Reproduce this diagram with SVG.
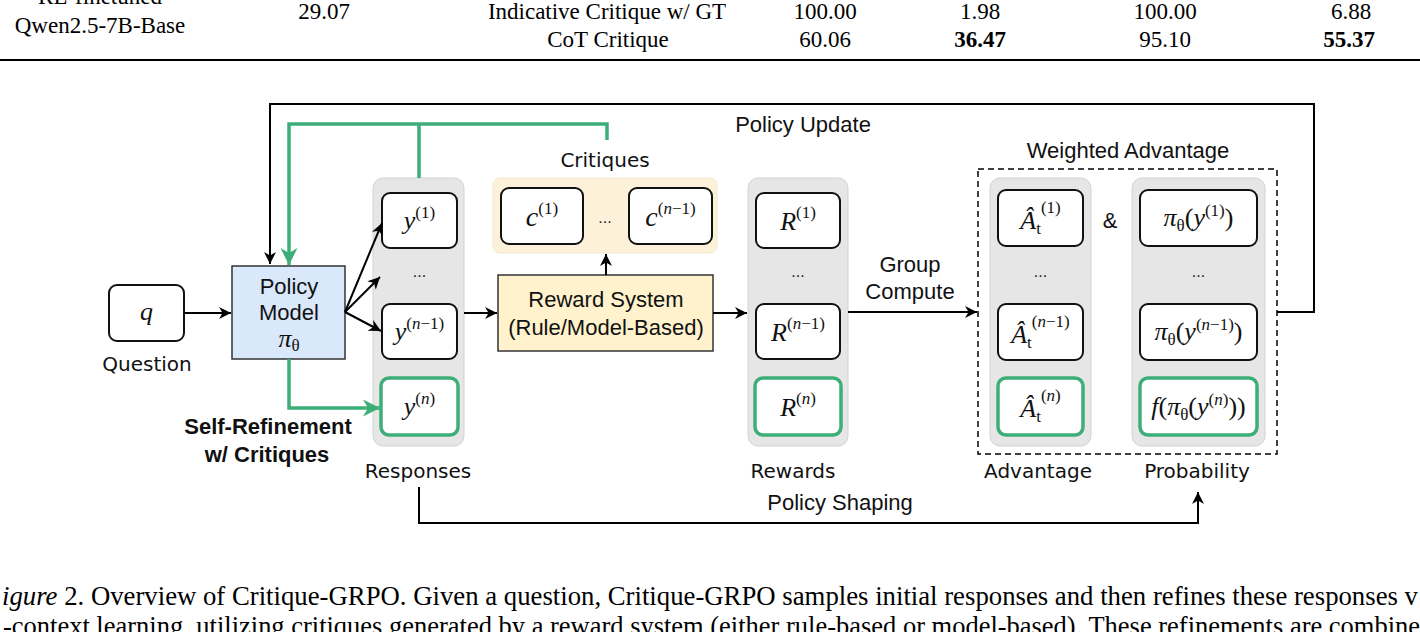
<svg xmlns="http://www.w3.org/2000/svg" width="1420" height="632" viewBox="0 0 1420 632">
<style>
.tb{font-family:"Liberation Serif",serif;font-size:23px;fill:#000}
.cap{font-family:"Liberation Serif",serif;font-size:26.5px;fill:#000}
.sf{font-family:"Liberation Sans",Arial,sans-serif;font-size:22px;fill:#111}
.cm{font-family:"DejaVu Sans",sans-serif;font-size:20px;fill:#111}
.bd{font-family:"Liberation Sans",Arial,sans-serif;font-size:22px;font-weight:bold;fill:#111}
.m{font-family:"Liberation Serif",serif;font-size:26px;fill:#111}
.i{font-style:italic}
.sup{font-size:17px;font-style:normal}
.dots{font-family:"Liberation Sans",sans-serif;font-size:16px;fill:#222}
.panel{fill:#e6e6e6;stroke:#d2d2d2;stroke-width:1}
.box{fill:#fff;stroke:#111;stroke-width:2}
.gbox{fill:#fff;stroke:#3dae78;stroke-width:3.5}
.ln{fill:none;stroke:#000;stroke-width:2}
.gl{fill:none;stroke:#3dae78;stroke-width:3.5}
</style>
<defs>
<marker id="ab" viewBox="0 0 10 10" refX="10" refY="5" markerWidth="13" markerHeight="12" markerUnits="userSpaceOnUse" orient="auto"><path d="M0,0 L10,5 L0,10 L3,5 Z" fill="#000"/></marker>
<marker id="ag" viewBox="0 0 10 10" refX="10" refY="5" markerWidth="17" markerHeight="17" markerUnits="userSpaceOnUse" orient="auto"><path d="M0,0 L10,5 L0,10 L3,5 Z" fill="#3dae78"/></marker>
</defs>
<rect width="1420" height="632" fill="#fff"/>

<!-- table fragment -->
<g id="table">
<text class="tb" x="100" y="4" text-anchor="middle">RL-finetuned</text>
<text class="tb" x="100" y="33" text-anchor="middle">Qwen2.5-7B-Base</text>
<text class="tb" x="324" y="18.5" text-anchor="middle">29.07</text>
<text class="tb" x="607" y="18.5" text-anchor="middle">Indicative Critique w/ GT</text>
<text class="tb" x="608" y="47" text-anchor="middle">CoT Critique</text>
<text class="tb" x="825" y="18.5" text-anchor="middle">100.00</text>
<text class="tb" x="980" y="18.5" text-anchor="middle">1.98</text>
<text class="tb" x="1165" y="18.5" text-anchor="middle">100.00</text>
<text class="tb" x="1351" y="18.5" text-anchor="middle">6.88</text>
<text class="tb" x="825" y="47" text-anchor="middle">60.06</text>
<text class="tb" x="980" y="47" text-anchor="middle" font-weight="bold">36.47</text>
<text class="tb" x="1165" y="47" text-anchor="middle">95.10</text>
<text class="tb" x="1349" y="47" text-anchor="middle" font-weight="bold">55.37</text>
<line x1="0" y1="60" x2="1420" y2="60" stroke="#000" stroke-width="2"/>
</g>

<!-- question -->
<g id="question">
<rect class="box" x="109" y="285" width="75" height="56" rx="8"/>
<text class="m" x="146.5" y="320" text-anchor="middle"><tspan class="i">q</tspan></text>
<text class="cm" x="147" y="371" text-anchor="middle">Question</text>
</g>

<!-- policy model -->
<g id="policy">
<rect x="232" y="266" width="113" height="93" fill="#dae8fc" stroke="#333" stroke-width="1.5"/>
<text class="sf" x="289" y="294" text-anchor="middle">Policy</text>
<text class="sf" x="289" y="320" text-anchor="middle">Model</text>
<text class="m" x="289" y="347" text-anchor="middle" font-size="23"><tspan class="i">π</tspan><tspan class="sup i" font-size="15" dy="4">θ</tspan></text>
</g>

<!-- responses -->
<g id="responses">
<rect class="panel" x="373" y="178" width="91" height="268" rx="10"/>
<rect class="box" x="382" y="193" width="75" height="55" rx="8"/>
<text class="m" x="419.5" y="229" text-anchor="middle"><tspan class="i">y</tspan><tspan class="sup" dy="-11">(1)</tspan></text>
<text class="dots" x="419.5" y="277" text-anchor="middle">...</text>
<rect class="box" x="382" y="304" width="75" height="55" rx="8"/>
<text class="m" x="419.5" y="340" text-anchor="middle"><tspan class="i">y</tspan><tspan class="sup" dy="-11">(<tspan class="i">n</tspan>−1)</tspan></text>
<rect class="gbox" x="381" y="378" width="77" height="57" rx="8"/>
<text class="m" x="419.5" y="415" text-anchor="middle"><tspan class="i">y</tspan><tspan class="sup" dy="-11">(<tspan class="i">n</tspan>)</tspan></text>
<text class="cm" x="418" y="478" text-anchor="middle">Responses</text>
</g>

<!-- critiques -->
<g id="critiques">
<rect x="493" y="178" width="224" height="75" rx="7" fill="#fdf1da" stroke="#f3e6cc" stroke-width="1"/>
<rect class="box" x="501" y="188" width="82" height="56" rx="8"/>
<text class="m" x="542" y="226" text-anchor="middle"><tspan class="i" font-size="28">c</tspan><tspan class="sup" font-size="18" dy="-12">(1)</tspan></text>
<text class="dots" x="605" y="223" text-anchor="middle">...</text>
<rect class="box" x="629" y="188" width="83" height="56" rx="8"/>
<text class="m" x="670.5" y="226" text-anchor="middle"><tspan class="i" font-size="28">c</tspan><tspan class="sup" font-size="18" dy="-12">(<tspan class="i">n</tspan>−1)</tspan></text>
<text class="cm" x="605" y="167" text-anchor="middle">Critiques</text>
</g>

<!-- reward system -->
<g id="reward-system">
<rect x="498" y="275" width="215" height="76" fill="#fff2cc" stroke="#333" stroke-width="1.5"/>
<text class="sf" x="606" y="307" text-anchor="middle">Reward System</text>
<text class="sf" x="606" y="335" text-anchor="middle">(Rule/Model-Based)</text>
</g>

<!-- rewards -->
<g id="rewards">
<rect class="panel" x="748" y="178" width="100" height="268" rx="10"/>
<rect class="box" x="756" y="193" width="84" height="55" rx="8"/>
<text class="m" x="798" y="230" text-anchor="middle"><tspan class="i">R</tspan><tspan class="sup" dy="-12">(1)</tspan></text>
<text class="dots" x="798" y="277" text-anchor="middle">...</text>
<rect class="box" x="756" y="304" width="84" height="55" rx="8"/>
<text class="m" x="798" y="341" text-anchor="middle"><tspan class="i">R</tspan><tspan class="sup" dy="-12">(<tspan class="i">n</tspan>−1)</tspan></text>
<rect class="gbox" x="755" y="378" width="86" height="57" rx="8"/>
<text class="m" x="798" y="416" text-anchor="middle"><tspan class="i">R</tspan><tspan class="sup" dy="-12">(<tspan class="i">n</tspan>)</tspan></text>
<text class="cm" x="793" y="478" text-anchor="middle">Rewards</text>
</g>

<!-- weighted advantage -->
<g id="weighted-advantage">
<rect x="978" y="169" width="299" height="285" fill="none" stroke="#000" stroke-width="1.5" stroke-dasharray="6 4"/>
<text class="sf" x="1128" y="158" text-anchor="middle">Weighted Advantage</text>
<text class="sf" x="1110" y="228" text-anchor="middle">&amp;</text>
</g>

<!-- advantage -->
<g id="advantage">
<rect class="panel" x="990" y="178" width="101" height="268" rx="10"/>
<rect class="box" x="998" y="190" width="85" height="56" rx="8"/>
<text class="m" x="1040.5" y="229" text-anchor="middle"><tspan class="i">Â</tspan><tspan class="sup i" dy="5">t</tspan><tspan class="sup" dy="-21">(1)</tspan></text>
<text class="dots" x="1040.5" y="277" text-anchor="middle">...</text>
<rect class="box" x="998" y="304" width="85" height="56" rx="8"/>
<text class="m" x="1040.5" y="343" text-anchor="middle"><tspan class="i">Â</tspan><tspan class="sup i" dy="5">t</tspan><tspan class="sup" dy="-21">(<tspan class="i">n</tspan>−1)</tspan></text>
<rect class="gbox" x="998" y="378" width="85" height="57" rx="8"/>
<text class="m" x="1040.5" y="417" text-anchor="middle"><tspan class="i">Â</tspan><tspan class="sup i" dy="5">t</tspan><tspan class="sup" dy="-21">(<tspan class="i">n</tspan>)</tspan></text>
<text class="cm" x="1038" y="478" text-anchor="middle">Advantage</text>
</g>

<!-- probability -->
<g id="probability">
<rect class="panel" x="1132" y="178" width="133" height="268" rx="10"/>
<rect class="box" x="1140" y="190" width="117" height="56" rx="8"/>
<text class="m" x="1198.5" y="226" text-anchor="middle" font-size="24"><tspan class="i">π</tspan><tspan class="sup i" font-size="15" dy="5">θ</tspan><tspan dy="-5">(</tspan><tspan class="i">y</tspan><tspan class="sup" font-size="16" dy="-10">(1)</tspan><tspan dy="10">)</tspan></text>
<text class="dots" x="1198.5" y="277" text-anchor="middle">...</text>
<rect class="box" x="1140" y="304" width="117" height="56" rx="8"/>
<text class="m" x="1198.5" y="340" text-anchor="middle" font-size="24"><tspan class="i">π</tspan><tspan class="sup i" font-size="15" dy="5">θ</tspan><tspan dy="-5">(</tspan><tspan class="i">y</tspan><tspan class="sup" font-size="16" dy="-10">(<tspan class="i">n</tspan>−1)</tspan><tspan dy="10">)</tspan></text>
<rect class="gbox" x="1140" y="378" width="117" height="57" rx="8"/>
<text class="m" x="1198.5" y="415" text-anchor="middle" font-size="24"><tspan class="i">f</tspan><tspan>(</tspan><tspan class="i">π</tspan><tspan class="sup i" font-size="15" dy="5">θ</tspan><tspan dy="-5">(</tspan><tspan class="i">y</tspan><tspan class="sup" font-size="16" dy="-10">(<tspan class="i">n</tspan>)</tspan><tspan dy="10">))</tspan></text>
<text class="cm" x="1197" y="478" text-anchor="middle">Probability</text>
</g>

<!-- connectors (drawn on top of the panels) -->
<g id="connectors">
<path class="ln" d="M1277,312 H1314 V104 H270 V264" marker-end="url(#ab)"/>
<path class="gl" d="M607,140 V124 H289 V265" marker-end="url(#ag)"/>
<path class="gl" d="M419,178 V124"/>
<path class="ln" d="M184,313 H231" marker-end="url(#ab)"/>
<path class="ln" d="M345,312 L382,223" marker-end="url(#ab)"/>
<path class="ln" d="M345,312 L380,277" marker-end="url(#ab)"/>
<path class="ln" d="M345,312 L381,331" marker-end="url(#ab)"/>
<path class="gl" d="M289,359 V408 H380" marker-end="url(#ag)"/>
<path class="ln" d="M464,313 H497" marker-end="url(#ab)"/>
<path class="ln" d="M606,275 V254" marker-end="url(#ab)"/>
<path class="ln" d="M713,313 H747" marker-end="url(#ab)"/>
<path class="ln" d="M848,312 H977" marker-end="url(#ab)"/>
<path class="ln" d="M419,487 V523 H1198 V492" marker-end="url(#ab)"/>
<text class="sf" x="803" y="132" text-anchor="middle">Policy Update</text>
<text class="sf" x="910" y="272" text-anchor="middle">Group</text>
<text class="sf" x="910" y="299" text-anchor="middle">Compute</text>
<text class="sf" x="840" y="510" text-anchor="middle">Policy Shaping</text>
<text class="bd" x="268" y="434" text-anchor="middle">Self-Refinement</text>
<text class="bd" x="267" y="462" text-anchor="middle">w/ Critiques</text>
</g>

<!-- caption fragment -->
<g id="caption">
<text class="cap" x="2" y="605" textLength="1416" lengthAdjust="spacingAndGlyphs"><tspan font-style="italic">igure</tspan> 2. Overview of Critique-GRPO. Given a question, Critique-GRPO samples initial responses and then refines these responses v</text>
<text class="cap" x="3" y="635" textLength="1417" lengthAdjust="spacingAndGlyphs">-context learning, utilizing critiques generated by a reward system (either rule-based or model-based). These refinements are combine</text>
</g>
</svg>
